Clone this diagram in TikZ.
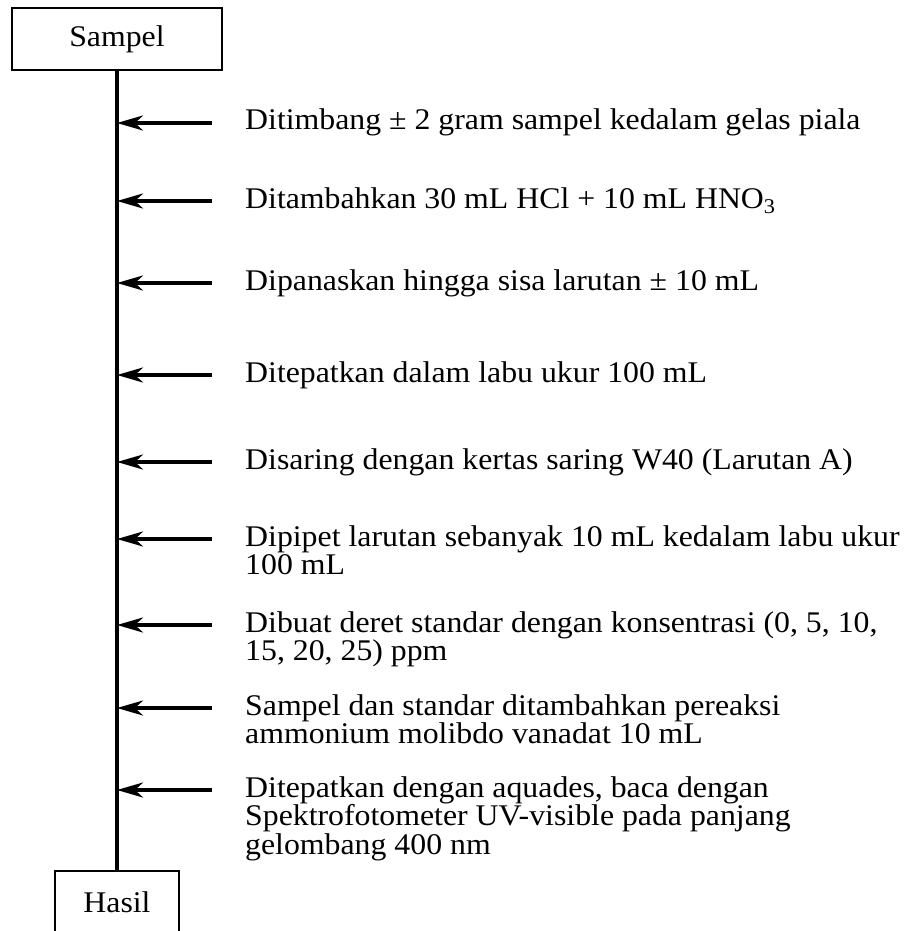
\documentclass[tikz,border=0pt]{standalone}
\usepackage{fontspec}
\setmainfont[FakeStretch=1.06]{Liberation Serif}
\usetikzlibrary{arrows.meta}

\begin{document}
\begin{tikzpicture}[x=1pt,y=-1pt,>={Stealth[length=26pt,width=15pt,inset=8pt]},
  box/.style={draw,line width=2.4pt,minimum height=62pt,inner sep=0pt,font=\fontsize{30}{28.7}\selectfont},
  flow/.style={line width=3.2pt},
  stepnote/.style={anchor=base west,inner sep=0pt,font=\fontsize{30}{28.7}\selectfont}]
\useasboundingbox (0,0) rectangle (911,931);
\node[box,minimum width=210pt] (sampel) at (117,39) {Sampel};
\node[box,minimum width=124pt] (hasil) at (117,902) {Hasil};
\draw[flow] (sampel) -- (hasil);
% langkah kerja
\coordinate (a1) at (212,123);
\coordinate (a2) at (212,201);
\coordinate (a3) at (212,283);
\coordinate (a4) at (212,375);
\coordinate (a5) at (212,462);
\coordinate (a6) at (212,539);
\coordinate (a7) at (212,625);
\coordinate (a8) at (212,708);
\coordinate (a9) at (212,790);
\node[stepnote] (s1) at (245,130) {Ditimbang ± 2 gram sampel kedalam gelas piala};
\node[stepnote] (s2) at (245,208) {Ditambahkan 30 mL HCl + 10 mL HNO\textsubscript{3}};
\node[stepnote] (s3) at (245,290) {Dipanaskan hingga sisa larutan ± 10 mL};
\node[stepnote] (s4) at (245,382) {Ditepatkan dalam labu ukur 100 mL};
\node[stepnote] (s5) at (245,469) {Disaring dengan kertas saring W40 (Larutan A)};
\node[stepnote] (s6) at (245,546) {\parbox[t]{700pt}{\raggedright Dipipet larutan sebanyak 10 mL kedalam labu ukur\\100 mL}};
\node[stepnote] (s7) at (245,632) {\parbox[t]{700pt}{\raggedright Dibuat deret standar dengan konsentrasi (0, 5, 10,\\15, 20, 25) ppm}};
\node[stepnote] (s8) at (245,715) {\parbox[t]{700pt}{\raggedright Sampel dan standar ditambahkan pereaksi\\ammonium molibdo vanadat 10 mL}};
\node[stepnote] (s9) at (245,797) {\parbox[t]{700pt}{\raggedright Ditepatkan dengan aquades, baca dengan\\Spektrofotometer UV-visible pada panjang\\gelombang 400 nm}};
\draw[flow,->] (a1) -- (a1 -| sampel.south);
\draw[flow,->] (a2) -- (a2 -| sampel.south);
\draw[flow,->] (a3) -- (a3 -| sampel.south);
\draw[flow,->] (a4) -- (a4 -| sampel.south);
\draw[flow,->] (a5) -- (a5 -| sampel.south);
\draw[flow,->] (a6) -- (a6 -| sampel.south);
\draw[flow,->] (a7) -- (a7 -| sampel.south);
\draw[flow,->] (a8) -- (a8 -| sampel.south);
\draw[flow,->] (a9) -- (a9 -| sampel.south);
\end{tikzpicture}
\end{document}
